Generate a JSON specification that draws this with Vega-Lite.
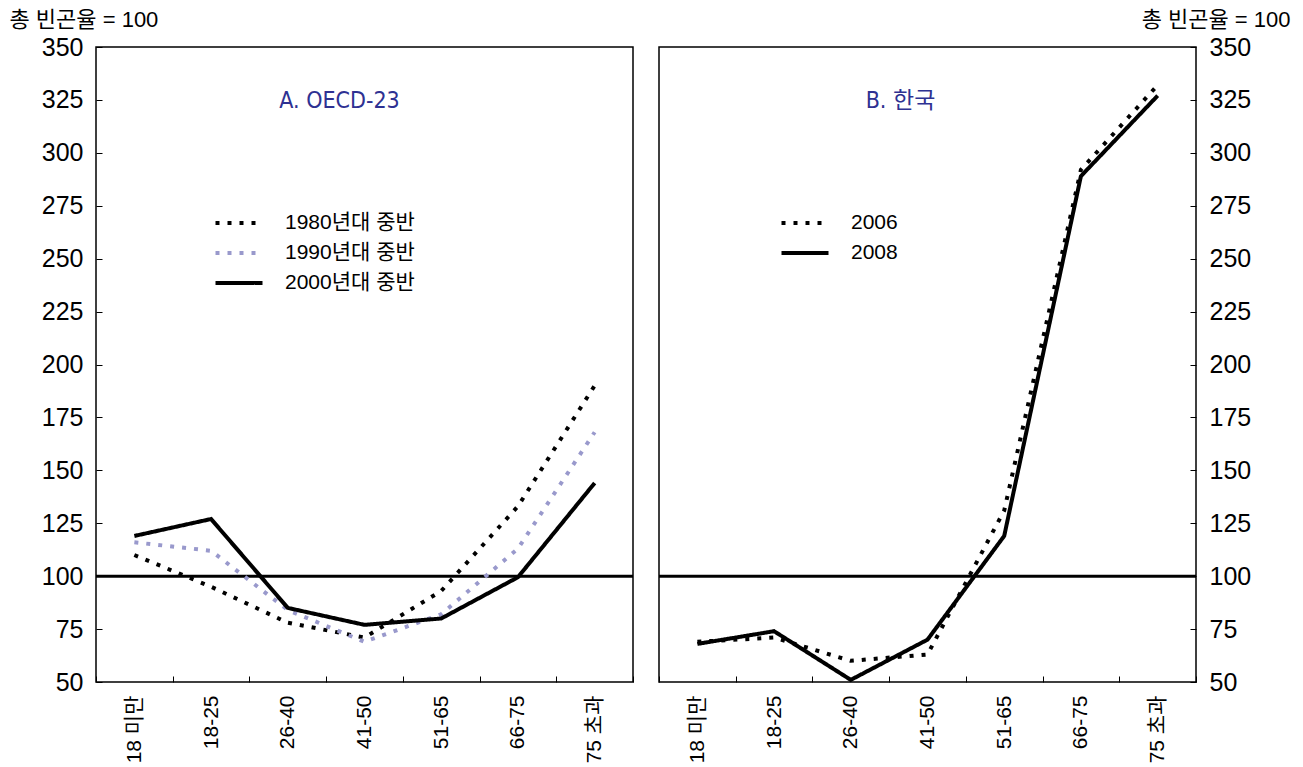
{
  "$schema": "https://vega.github.io/schema/vega-lite/v6.json",
  "padding": {"left": 8, "top": 7, "right": 5, "bottom": 5},
  "background": "white",
  "spacing": 11,
  "config": {
    "view": {"stroke": "#000000", "strokeWidth": 1.5},
    "font": "Liberation Sans, Noto Sans CJK KR",
    "axis": {
      "domain": false,
      "grid": false,
      "ticks": true,
      "tickColor": "#000000",
      "tickSize": -6,
      "tickWidth": 1,
      "labelColor": "#000000",
      "labelFont": "Liberation Sans, Noto Sans CJK KR",
      "titleFont": "Liberation Sans, Noto Sans CJK KR",
      "titleColor": "#000000"
    },
    "legend": {
      "orient": "none",
      "title": null,
      "symbolType": "M-2.35,0L2.35,0",
      "symbolSize": 400,
      "symbolStrokeWidth": 4,
      "symbolFillColor": "transparent",
      "labelFontSize": 21,
      "labelFont": "Liberation Sans, Noto Sans CJK KR",
      "labelColor": "#000000",
      "labelOffset": 34,
      "rowPadding": 8
    }
  },
  "datasets": {
    "oecd": [
      {"age": "18 미만", "series": "1980년대 중반", "value": 110},
      {"age": "18-25", "series": "1980년대 중반", "value": 95},
      {"age": "26-40", "series": "1980년대 중반", "value": 78},
      {"age": "41-50", "series": "1980년대 중반", "value": 71},
      {"age": "51-65", "series": "1980년대 중반", "value": 93},
      {"age": "66-75", "series": "1980년대 중반", "value": 133},
      {"age": "75 초과", "series": "1980년대 중반", "value": 190},
      {"age": "18 미만", "series": "1990년대 중반", "value": 116},
      {"age": "18-25", "series": "1990년대 중반", "value": 112},
      {"age": "26-40", "series": "1990년대 중반", "value": 84},
      {"age": "41-50", "series": "1990년대 중반", "value": 69},
      {"age": "51-65", "series": "1990년대 중반", "value": 82},
      {"age": "66-75", "series": "1990년대 중반", "value": 113},
      {"age": "75 초과", "series": "1990년대 중반", "value": 168},
      {"age": "18 미만", "series": "2000년대 중반", "value": 119},
      {"age": "18-25", "series": "2000년대 중반", "value": 127},
      {"age": "26-40", "series": "2000년대 중반", "value": 85},
      {"age": "41-50", "series": "2000년대 중반", "value": 77},
      {"age": "51-65", "series": "2000년대 중반", "value": 80},
      {"age": "66-75", "series": "2000년대 중반", "value": 99.5},
      {"age": "75 초과", "series": "2000년대 중반", "value": 144}
    ],
    "korea": [
      {"age": "18 미만", "series": "2006", "value": 69},
      {"age": "18-25", "series": "2006", "value": 71},
      {"age": "26-40", "series": "2006", "value": 60},
      {"age": "41-50", "series": "2006", "value": 63},
      {"age": "51-65", "series": "2006", "value": 131},
      {"age": "66-75", "series": "2006", "value": 292},
      {"age": "75 초과", "series": "2006", "value": 332},
      {"age": "18 미만", "series": "2008", "value": 68},
      {"age": "18-25", "series": "2008", "value": 74},
      {"age": "26-40", "series": "2008", "value": 51},
      {"age": "41-50", "series": "2008", "value": 70},
      {"age": "51-65", "series": "2008", "value": 119},
      {"age": "66-75", "series": "2008", "value": 289},
      {"age": "75 초과", "series": "2008", "value": 327}
    ]
  },
  "hconcat": [
    {
      "width": 537,
      "height": 635,
      "title": {"text": "A. OECD-23", "offset": -105, "dx": -25, "anchor": "middle", "color": "#2e3192", "fontSize": 23, "fontWeight": "normal", "font": "Liberation Sans Narrow, DejaVu Sans Condensed, Roboto"},
      "layer": [
        {
          "data": {"values": [{}]},
          "mark": {"type": "rule", "strokeWidth": 3, "color": "#000000"},
          "encoding": {"y": {"datum": 100}}
        },
        {
          "data": {"name": "oecd"},
          "mark": {"type": "line", "strokeWidth": 4, "strokeCap": "butt"},
          "encoding": {
            "x": {
              "field": "age", "type": "nominal",
              "sort": ["18 미만", "18-25", "26-40", "41-50", "51-65", "66-75", "75 초과"],
              "scale": {"type": "band", "paddingInner": 0, "paddingOuter": 0},
              "axis": {"title": null, "labelAngle": -90, "tickBand": "extent", "labelFontSize": 21, "labelPadding": 19}
            },
            "y": {
              "field": "value", "type": "quantitative",
              "scale": {"domain": [50, 350], "nice": false, "zero": false},
              "axis": {
                "values": [50, 75, 100, 125, 150, 175, 200, 225, 250, 275, 300, 325, 350],
                "title": "총 빈곤율 = 100", "titleAngle": 0, "titleX": -87, "titleY": -21,
                "titleAlign": "left", "titleBaseline": "alphabetic", "titleFontSize": 22, "titleFontWeight": "normal",
                "labelFontSize": 25, "labelPadding": 19
              }
            },
            "color": {
              "field": "series", "type": "nominal",
              "scale": {"domain": ["1980년대 중반", "1990년대 중반", "2000년대 중반"], "range": ["#000000", "#9999cc", "#000000"]},
              "legend": {"legendX": 131, "legendY": 164}
            },
            "strokeDash": {
              "field": "series", "type": "nominal",
              "scale": {"domain": ["1980년대 중반", "1990년대 중반", "2000년대 중반"], "range": [[4, 8], [4, 8], [1, 0]]},
              "legend": {"legendX": 131, "legendY": 164}
            }
          }
        }
      ]
    },
    {
      "width": 537,
      "height": 635,
      "title": {"text": "B. 한국", "offset": -105, "dx": -27, "anchor": "middle", "color": "#2e3192", "fontSize": 23, "fontWeight": "normal", "font": "Liberation Sans Narrow, DejaVu Sans Condensed, Noto Sans CJK KR"},
      "layer": [
        {
          "data": {"values": [{}]},
          "mark": {"type": "rule", "strokeWidth": 3, "color": "#000000"},
          "encoding": {"y": {"datum": 100}}
        },
        {
          "data": {"name": "korea"},
          "mark": {"type": "line", "strokeWidth": 4, "strokeCap": "butt", "color": "#000000"},
          "encoding": {
            "x": {
              "field": "age", "type": "nominal",
              "sort": ["18 미만", "18-25", "26-40", "41-50", "51-65", "66-75", "75 초과"],
              "scale": {"type": "band", "paddingInner": 0, "paddingOuter": 0},
              "axis": {"title": null, "labelAngle": -90, "tickBand": "extent", "labelFontSize": 21, "labelPadding": 19}
            },
            "y": {
              "field": "value", "type": "quantitative",
              "scale": {"domain": [50, 350], "nice": false, "zero": false},
              "axis": {
                "orient": "right",
                "values": [50, 75, 100, 125, 150, 175, 200, 225, 250, 275, 300, 325, 350],
                "title": "총 빈곤율 = 100", "titleAngle": 0, "titleX": 94, "titleY": -21,
                "titleAlign": "right", "titleBaseline": "alphabetic", "titleFontSize": 22, "titleFontWeight": "normal",
                "labelFontSize": 25, "labelPadding": 19
              }
            },
            "strokeDash": {
              "field": "series", "type": "nominal",
              "scale": {"domain": ["2006", "2008"], "range": [[4, 8], [1, 0]]},
              "legend": {"legendX": 134, "legendY": 164}
            }
          }
        }
      ]
    }
  ],
  "resolve": {"scale": {"color": "independent", "strokeDash": "independent"}, "legend": {"color": "independent", "strokeDash": "independent"}}
}
